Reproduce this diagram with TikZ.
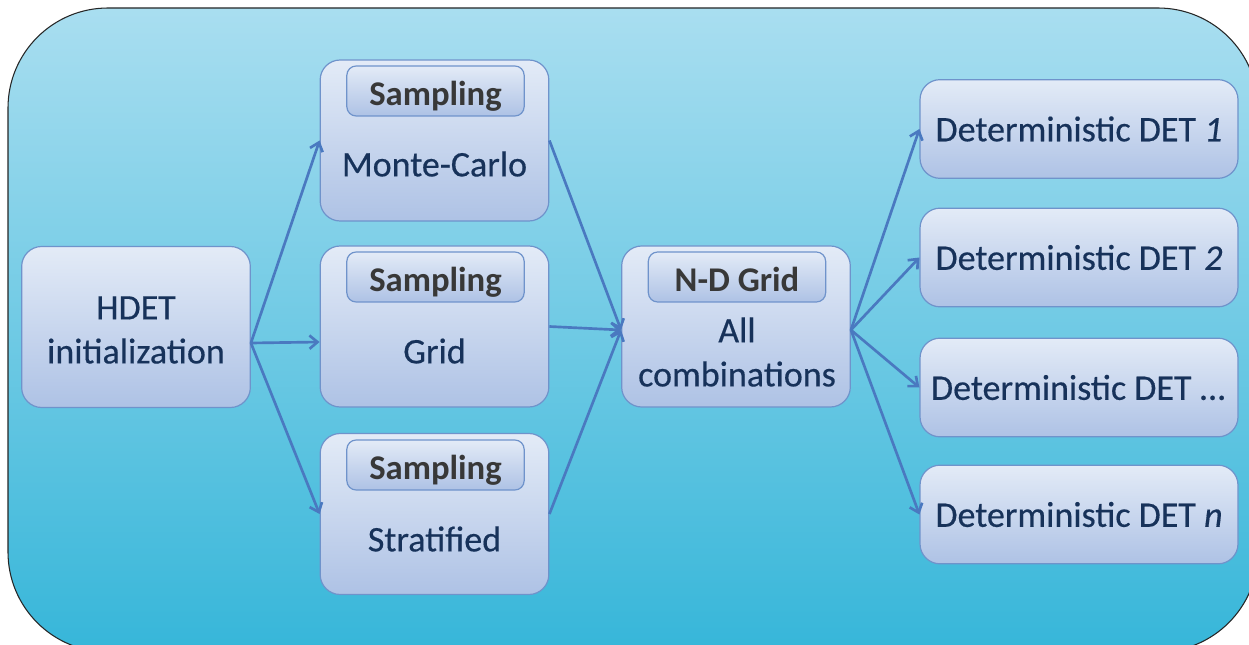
\documentclass[tikz,border=0pt]{standalone}
\usepackage{fontspec}
\setmainfont{Carlito}
\newfontfamily\labelfont[FakeBold=0.4]{Carlito}
\usetikzlibrary{arrows.meta,calc}
\definecolor{bgtop}{HTML}{A9DEF0}
\definecolor{bgbot}{HTML}{36B6D9}
\definecolor{boxtop}{HTML}{E3EBF7}
\definecolor{boxbot}{HTML}{AEC2E5}
\definecolor{boxline}{HTML}{6F93CB}
\definecolor{arrowc}{HTML}{4A79C0}
\definecolor{maintext}{HTML}{17325A}
\definecolor{tagtext}{HTML}{383838}
\begin{document}
\begin{tikzpicture}[x=0.75pt,y=-0.75pt,
  frame/.style={draw=black!85, line width=0.8pt, top color=bgtop, bottom color=bgbot, rounded corners=75pt},
  box/.style={draw=boxline, line width=0.9pt, rounded corners=15pt, top color=boxtop, bottom color=boxbot, inner sep=0pt},
  midbox/.style={box, minimum width=171.5pt, minimum height=120.75pt},
  detbox/.style={box, minimum width=238.5pt, minimum height=74pt},
  tagbox/.style={box, rounded corners=7pt, minimum width=133pt, minimum height=37.5pt},
  label/.style={text=maintext, font=\labelfont\fontsize{27}{33}\selectfont, align=center, inner sep=0pt},
  taglabel/.style={text=tagtext, font=\fontsize{26}{30}\selectfont\bfseries, inner sep=0pt},
  conn/.style={draw=arrowc, line width=2pt, -{Straight Barb[length=6pt,width=10pt,line width=2pt]}}
]
\useasboundingbox (0,0) rectangle (1249,645);
\path[frame] (8,8) rectangle (1258,652);

% source
\node[midbox] (hdet) at (136,327) {};
\node[label] (hdett) at (136,330) {HDET\\initialization};

% sampling variants
\node[midbox] (mc) at (434.5,140.5) {};
\node[tagbox] (mctag) at (435.5,91) {};
\node[taglabel] at ($(mctag)+(0,5)$) {Sampling};
\node[label] (mct) at (434.5,164) {Monte-Carlo};

\node[midbox] (grid) at (434.5,326.5) {};
\node[tagbox] (gridtag) at (435.5,277) {};
\node[taglabel] at ($(gridtag)+(0,5)$) {Sampling};
\node[label] (gridt) at (434.5,351) {Grid};

\node[midbox] (strat) at (434.5,514) {};
\node[tagbox] (strattag) at (435.5,465) {};
\node[taglabel] at ($(strattag)+(0,5)$) {Sampling};
\node[label] (stratt) at (434.5,539) {Stratified};

% combination
\node[midbox] (nd) at (736,326.5) {};
\node[tagbox] (ndtag) at (737,277) {};
\node[taglabel] at ($(ndtag)+(0,2)$) {N-D Grid};
\node[label] (ndt) at (737,352) {All\\combinations};

% deterministic runs
\node[detbox] (det1) at (1079,129) {};
\node[label] at (det1) {Deterministic DET \textit{1}};
\node[detbox] (det2) at (1079,257.5) {};
\node[label] at (det2) {Deterministic DET \textit{2}};
\node[detbox] (det3) at (1079,387.5) {};
\node[label] at (det3) {Deterministic DET \textit{...}};
\node[detbox] (detn) at (1079,514.5) {};
\node[label] at (detn) {Deterministic DET \textit{n}};

% connectors
\coordinate (hout) at ($(hdet.east)+(0,16)$);
\coordinate (gin) at ($(grid.west)+(0,15.5)$);
\coordinate (ndin) at ($(nd.west)+(0,3.5)$);
\coordinate (ndout) at ($(nd.east)+(0,3.5)$);
\draw[conn] (hout) -- (mc.west);
\draw[conn] (hout) -- (gin);
\draw[conn] (hout) -- (strat.west);
\draw[conn] (mc.east) -- (ndin);
\draw[conn] (grid.east) -- (ndin);
\draw[conn] (strat.east) -- (ndin);
\draw[conn] (ndout) -- (det1.west);
\draw[conn] (ndout) -- (det2.west);
\draw[conn] (ndout) -- (det3.west);
\draw[conn] (ndout) -- (detn.west);
\end{tikzpicture}
\end{document}
